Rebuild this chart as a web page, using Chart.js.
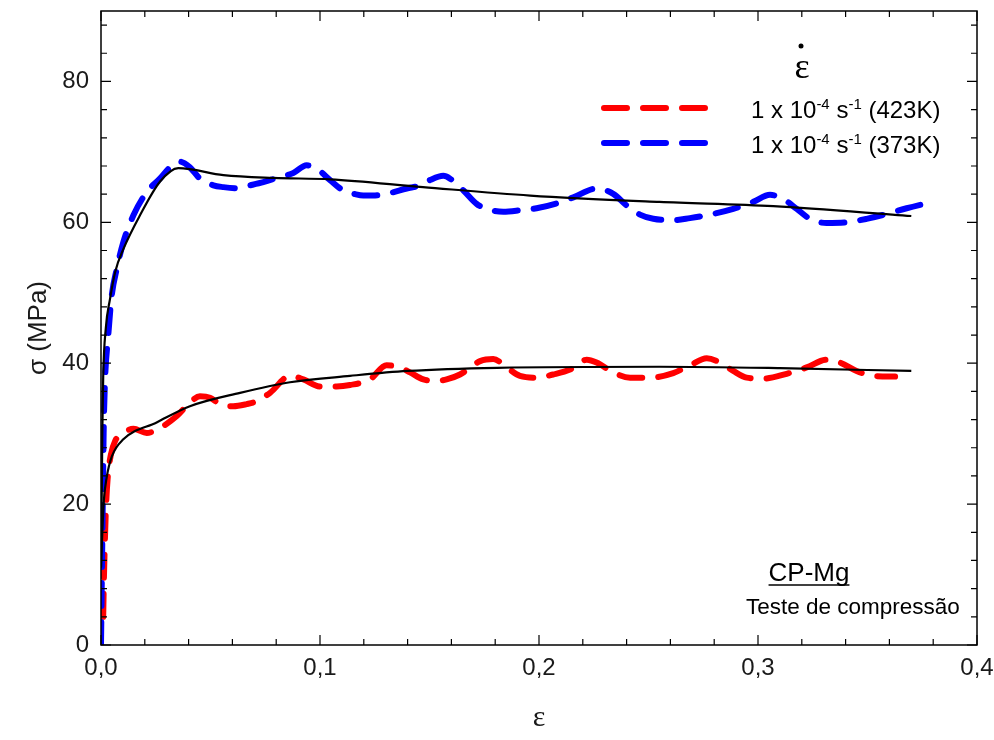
<!DOCTYPE html>
<html lang="pt">
<head>
  <meta charset="UTF-8" />
  <title>CP-Mg compressão</title>
  <script src="https://cdn.jsdelivr.net/npm/chart.js"></script>
  <style>
    html, body { margin: 0; padding: 0; background: #fff; }
    .wrap { width: 994px; height: 740px; position: relative; }
  </style>
</head>
<body>
  <div class="wrap"><canvas id="curva"></canvas></div>

  <script>
    // eixos
    const xTicks = [0, 0.1, 0.2, 0.3, 0.4];
    const yTicks = [0, 20, 40, 60, 80];

    // 423K - ensaio (tracejado vermelho)
    const redStrain = [0.001, 0.0013, 0.0017, 0.0022, 0.003, 0.0045, 0.0065, 0.0094, 0.0148, 0.0209, 0.0269, 0.0346, 0.0406, 0.0452, 0.0498, 0.0543, 0.0604, 0.0665, 0.0711, 0.0772, 0.0863, 0.0924, 0.1, 0.1076, 0.1137, 0.1228, 0.1304, 0.1365, 0.1411, 0.1472, 0.1533, 0.1578, 0.1639, 0.1731, 0.1791, 0.1853, 0.1913, 0.1989, 0.2065, 0.2142, 0.2218, 0.2263, 0.2339, 0.2416, 0.2507, 0.2613, 0.2689, 0.2766, 0.2826, 0.2887, 0.2948, 0.3024, 0.3131, 0.3222, 0.3313, 0.3374, 0.345, 0.3527, 0.3626];
    const redStress = [4, 9, 14, 19, 23.5, 27, 29, 29.9, 30.7, 30.1, 30.8, 32.5, 34.4, 35.3, 35.1, 34.2, 33.9, 34.2, 34.6, 35.8, 38.2, 37.7, 36.7, 36.7, 36.9, 37.7, 39.7, 39.4, 38.7, 37.7, 37.5, 37.7, 38.4, 40.3, 40.6, 39.4, 38.2, 37.95, 38.4, 39.1, 40.5, 40.1, 38.7, 37.95, 37.95, 38.6, 39.7, 40.7, 40.1, 38.9, 37.95, 37.8, 38.5, 39.4, 40.5, 40.1, 38.9, 38.2, 38.1];

    // 373K - ensaio (tracejado azul)
    const blueStrain = [0, 0.0004, 0.0008, 0.0012, 0.0018, 0.0033, 0.0049, 0.0072, 0.0102, 0.0148, 0.0209, 0.0269, 0.0315, 0.0361, 0.0406, 0.0452, 0.0513, 0.0559, 0.062, 0.068, 0.0741, 0.0802, 0.0878, 0.0939, 0.0985, 0.1046, 0.1107, 0.116, 0.1198, 0.1243, 0.1304, 0.1396, 0.1457, 0.1502, 0.1563, 0.1594, 0.1654, 0.1716, 0.1761, 0.1837, 0.1913, 0.1989, 0.2081, 0.2157, 0.2263, 0.2339, 0.24, 0.2461, 0.2522, 0.2613, 0.2689, 0.2796, 0.2887, 0.2978, 0.3055, 0.3116, 0.3177, 0.3237, 0.3313, 0.3405, 0.3496, 0.3588, 0.3679, 0.3801];
    const blueStress = [0, 10, 20, 30, 37.3, 43.9, 49.6, 53.4, 57.2, 61.0, 64.3, 66.2, 67.8, 68.6, 67.8, 66.2, 65.25, 65.0, 64.85, 65.25, 65.7, 66.3, 67.0, 68.1, 67.6, 66.0, 64.5, 64.0, 63.8, 63.8, 64.05, 64.8, 65.25, 66.0, 66.6, 66.2, 64.55, 62.6, 61.9, 61.5, 61.7, 62.0, 62.7, 63.55, 64.8, 64.05, 62.4, 61.1, 60.5, 60.3, 60.6, 61.2, 61.9, 62.9, 63.9, 63.3, 61.9, 60.5, 59.9, 60.0, 60.5, 61.2, 62.0, 62.95];

    // curvas ajustadas (linha preta)
    const fit373Strain = [0, 0.0003, 0.0006, 0.001, 0.0022, 0.0041, 0.0065, 0.0102, 0.0178, 0.027, 0.0353, 0.0559, 0.0787, 0.1046, 0.147, 0.196, 0.255, 0.307, 0.37];
    const fit373Stress = [11, 20, 30, 38, 45, 49.1, 53, 56.2, 61.0, 65.8, 67.7, 66.7, 66.3, 66.1, 65.0, 63.8, 62.9, 62.3, 60.9];
    const fit423Strain = [0, 0.0006, 0.0013, 0.0026, 0.005, 0.0102, 0.0254, 0.0406, 0.0635, 0.0863, 0.1137, 0.14, 0.181, 0.255, 0.31, 0.37];
    const fit423Stress = [11, 16, 20.5, 23.8, 26.8, 29.2, 31.6, 33.9, 35.8, 37.3, 38.2, 38.9, 39.35, 39.5, 39.3, 38.9];

    const labels423 = ['1 x 10', '-4', ' s', '-1', ' (423K)'];
    const labels373 = ['1 x 10', '-4', ' s', '-1', ' (373K)'];

    const RED = '#ff0000';
    const BLUE = '#0000ff';

    function pts(xs, ys) {
      return xs.map((x, i) => ({ x: x, y: ys[i] }));
    }

    function dashed(data, color, order) {
      return {
        data: data,
        borderColor: color,
        borderWidth: 6,
        borderDash: [23, 16],
        borderCapStyle: 'round',
        pointRadius: 0,
        cubicInterpolationMode: 'monotone',
        order: order
      };
    }

    function solid(data) {
      return {
        data: data,
        borderColor: '#000',
        borderWidth: 2.2,
        pointRadius: 0,
        cubicInterpolationMode: 'monotone',
        order: 0
      };
    }

    // moldura, tracinhos para dentro, legenda e anotação
    const frame = {
      id: 'frame',
      afterDraw(chart) {
        const { ctx, chartArea: a, scales } = chart;
        const xs = scales.x, ys = scales.y;
        ctx.save();
        ctx.strokeStyle = '#000';
        ctx.lineWidth = 1.5;
        ctx.strokeRect(a.left, a.top, a.right - a.left, a.bottom - a.top);

        ctx.lineWidth = 1.2;
        ctx.beginPath();
        for (let i = 0; i <= 20; i++) {
          const px = xs.getPixelForValue(i * 0.02);
          const len = i % 5 === 0 ? 10 : 6;
          ctx.moveTo(px, a.bottom); ctx.lineTo(px, a.bottom - len);
          ctx.moveTo(px, a.top); ctx.lineTo(px, a.top + len);
        }
        for (let v = 0; v <= 88; v += 4) {
          const py = ys.getPixelForValue(v);
          const len = v % 20 === 0 ? 10 : 6;
          ctx.moveTo(a.left, py); ctx.lineTo(a.left + len, py);
          ctx.moveTo(a.right, py); ctx.lineTo(a.right - len, py);
        }
        ctx.stroke();

        // legenda
        ctx.fillStyle = '#000';
        ctx.textBaseline = 'alphabetic';
        ctx.font = '36px "Liberation Serif"';
        ctx.textAlign = 'center';
        ctx.fillText('ε', 802, 78);
        ctx.beginPath();
        ctx.arc(801, 46, 2.5, 0, Math.PI * 2);
        ctx.fill();

        const rows = [
          { color: RED, y: 108, parts: labels423 },
          { color: BLUE, y: 143, parts: labels373 }
        ];
        rows.forEach(r => {
          ctx.save();
          ctx.strokeStyle = r.color;
          ctx.lineWidth = 6;
          ctx.lineCap = 'round';
          ctx.setLineDash([23, 16]);
          ctx.beginPath();
          ctx.moveTo(604, r.y);
          ctx.lineTo(707, r.y);
          ctx.stroke();
          ctx.restore();

          ctx.textAlign = 'left';
          let tx = 751;
          r.parts.forEach((p, i) => {
            const sup = i === 1 || i === 3;
            ctx.font = sup ? '15px "Liberation Sans"' : '24px "Liberation Sans"';
            ctx.fillText(p, tx, sup ? r.y + 1 : r.y + 10);
            tx += ctx.measureText(p).width;
          });
        });

        // anotação
        ctx.font = '26px "Liberation Sans"';
        ctx.textAlign = 'center';
        ctx.fillText('CP-Mg', 809, 581);
        const w = ctx.measureText('CP-Mg').width;
        ctx.lineWidth = 1.4;
        ctx.beginPath();
        ctx.moveTo(809 - w / 2, 585); ctx.lineTo(809 + w / 2, 585);
        ctx.stroke();
        ctx.font = '22.5px "Liberation Sans"';
        ctx.textAlign = 'left';
        ctx.fillText('Teste de compressão', 746, 614);
        ctx.restore();
      }
    };

    new Chart(document.getElementById('curva'), {
      type: 'line',
      data: {
        datasets: [
          solid(pts(fit373Strain, fit373Stress)),
          solid(pts(fit423Strain, fit423Stress)),
          dashed(pts(blueStrain, blueStress), BLUE, 1),
          dashed(pts(redStrain, redStress), RED, 2)
        ]
      },
      options: {
        responsive: true,
        maintainAspectRatio: false,
        animation: false,
        layout: { padding: { top: 11, right: 17, bottom: 0, left: 19 } },
        plugins: { legend: { display: false }, tooltip: { enabled: false } },
        elements: { line: { borderJoinStyle: 'round' } },
        scales: {
          x: {
            type: 'linear',
            min: 0,
            max: 0.4,
            afterBuildTicks: s => { s.ticks = xTicks.map(v => ({ value: v })); },
            afterFit: s => { s.height = 95; s.paddingLeft = 0; s.paddingRight = 0; },
            grid: { display: false, drawTicks: false },
            border: { display: false },
            ticks: {
              padding: 9,
              color: '#1a1a1a',
              font: { family: 'Liberation Sans', size: 24 },
              callback: v => v.toFixed(1).replace('.', ',')
            },
            title: {
              display: true,
              text: 'ε',
              color: '#1a1a1a',
              font: { family: 'Liberation Serif', size: 30 }
            }
          },
          y: {
            min: 0,
            max: 90,
            afterBuildTicks: s => { s.ticks = yTicks.map(v => ({ value: v })); },
            afterFit: s => { s.width = 82; s.paddingTop = 0; s.paddingBottom = 0; },
            grid: { display: false, drawTicks: false },
            border: { display: false },
            ticks: {
              padding: 12,
              color: '#1a1a1a',
              font: { family: 'Liberation Sans', size: 24 }
            },
            title: {
              display: true,
              text: 'σ (MPa)',
              color: '#1a1a1a',
              font: { family: 'Liberation Sans', size: 26 }
            }
          }
        }
      },
      plugins: [frame]
    });
  </script>
</body>
</html>
